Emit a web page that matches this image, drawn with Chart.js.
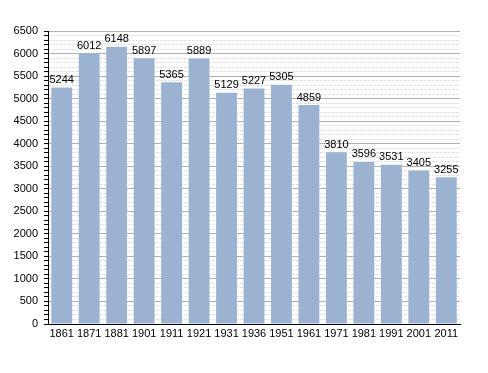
<!DOCTYPE html>
<html><head><meta charset="utf-8">
<script src="https://cdn.jsdelivr.net/npm/chart.js@4"></script>
<style>html,body{margin:0;padding:0;background:#fff}#wrap{width:488px;height:373px}</style>
</head><body><div id="wrap"><canvas id="c" width="488" height="373"></canvas></div>
<script>
const categories = ["1861","1871","1881","1901","1911","1921","1931","1936","1951","1961","1971","1981","1991","2001","2011"];
const population = [5244,6012,6148,5897,5365,5889,5129,5227,5305,4859,3810,3596,3531,3405,3255];
const yMin = 0, yMax = 6500, majorStep = 500, minorStep = 100;

const valueLabels = {
  id: 'valueLabels',
  afterDatasetsDraw(chart) {
    const ctx = chart.ctx;
    const meta = chart.getDatasetMeta(0);
    ctx.save();
    ctx.font = '11px "Liberation Sans", Arial, sans-serif';
    ctx.fillStyle = '#000';
    ctx.textAlign = 'center';
    ctx.textBaseline = 'bottom';
    meta.data.forEach((bar, i) => {
      ctx.fillText(String(population[i]), bar.x, bar.y - 2);
    });
    ctx.restore();
  }
};

new Chart(document.getElementById('c'), {
  type: 'bar',
  data: {
    labels: categories,
    datasets: [{
      data: population,
      backgroundColor: '#9bb3d1',
      borderWidth: 0,
      barPercentage: 0.76,
      categoryPercentage: 1
    }]
  },
  options: {
    responsive: false,
    animation: false,
    devicePixelRatio: 1,
    layout: { padding: { left: 0, right: 28, top: 31, bottom: 29 } },
    plugins: { legend: { display: false }, tooltip: { enabled: false } },
    scales: {
      x: {
        grid: { display: false, drawTicks: false },
        border: { color: '#000', width: 1 },
        ticks: { color: '#000', font: { family: '"Liberation Sans", Arial, sans-serif', size: 11 }, padding: 3, maxRotation: 0, autoSkip: false },
        afterFit(s) { s.height = 20; }
      },
      yMinor: {
        position: 'left',
        min: yMin, max: yMax,
        ticks: { display: false, stepSize: minorStep },
        grid: {
          drawTicks: false,
          color: (c) => (c.tick && c.tick.value % majorStep === 0) ? 'rgba(0,0,0,0)' : '#e2e2e2'
        },
        border: { display: false, dash: [3, 1] },
        afterFit(s) { s.width = 0; }
      },
      y: {
        position: 'left',
        min: yMin, max: yMax,
        ticks: {
          stepSize: minorStep,
          autoSkip: false,
          color: '#000',
          font: { family: '"Liberation Sans", Arial, sans-serif', size: 11 },
          padding: 6,
          callback: (v) => (v % majorStep === 0 ? String(v) : '')
        },
        grid: {
          tickLength: 4,
          color: (c) => (c.tick && c.tick.value % majorStep === 0) ? '#b0b0b0' : 'rgba(0,0,0,0)',
          tickColor: '#000'
        },
        border: { color: '#000', width: 1 },
        afterFit(s) { s.width = 48; }
      }
    }
  },
  plugins: [valueLabels]
});
</script></body></html>
